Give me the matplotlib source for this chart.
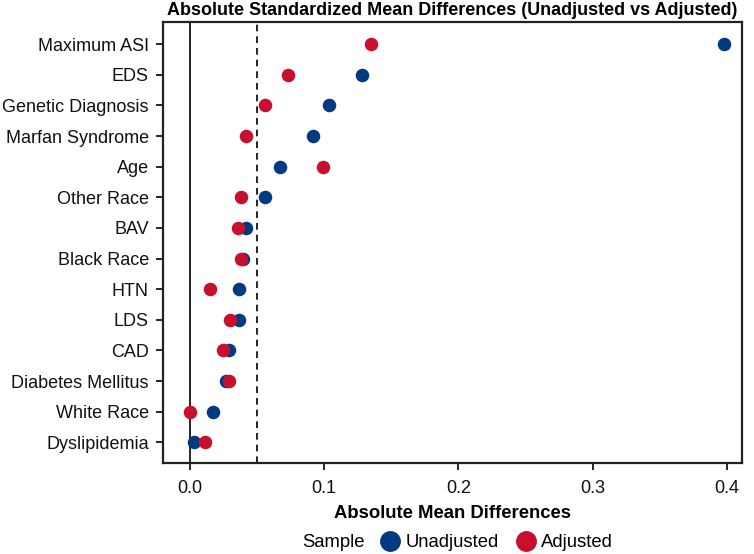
import matplotlib
matplotlib.use("Agg")
import matplotlib.pyplot as plt
from matplotlib.lines import Line2D

plt.rcParams['font.family'] = ['Liberation Sans', 'DejaVu Sans']

categories = ["Maximum ASI", "EDS", "Genetic Diagnosis", "Marfan Syndrome", "Age",
              "Other Race", "BAV", "Black Race", "HTN", "LDS", "CAD",
              "Diabetes Mellitus", "White Race", "Dyslipidemia"]
unadjusted = [0.398, 0.128, 0.104, 0.092, 0.067, 0.056, 0.042, 0.040, 0.037, 0.037,
              0.029, 0.027, 0.017, 0.003]
adjusted = [0.135, 0.073, 0.056, 0.042, 0.099, 0.038, 0.036, 0.038, 0.015, 0.030,
            0.025, 0.029, 0.000, 0.011]
xticks = [0.0, 0.1, 0.2, 0.3, 0.4]
threshold = 0.05

blue = "#003A80"
red = "#C8102E"

fig = plt.figure(figsize=(7.54, 5.54), dpi=100)
ax = fig.add_axes([0.216, 0.164, 0.768, 0.796])

n = len(categories)
ypos = list(range(n - 1, -1, -1))

ax.axvline(0, color="black", lw=1.2, zorder=1)
ax.axvline(threshold, color="black", lw=1.2, ls=(0, (4, 3)), zorder=1)
ax.scatter(unadjusted, ypos, s=95, color=blue, zorder=3, linewidths=0)
ax.scatter(adjusted, ypos, s=95, color=red, zorder=4, linewidths=0)

ax.set_xlim(-0.020, 0.411)
ax.set_ylim(-0.68, n - 1 + 0.72)
ax.set_yticks(ypos)
ax.set_yticklabels(categories, fontsize=13)
ax.set_xticks(xticks)
ax.set_xticklabels([f"{v:.1f}" for v in xticks], fontsize=13)
ax.tick_params(axis='both', direction='out', length=5, width=1.2, colors='black',
               labelcolor='#111111')
ax.tick_params(axis='x', pad=7)
ax.tick_params(axis='y', pad=5)
for sp in ax.spines.values():
    sp.set_linewidth(1.6)
    sp.set_color('#222222')

ax.set_xlabel("Absolute Mean Differences", fontsize=13.3, fontweight='bold', labelpad=6)
ax.set_title("Absolute Standardized Mean Differences (Unadjusted vs Adjusted)",
             fontsize=13, fontweight='bold', pad=5)

handles = [Line2D([], [], marker='o', ls='none', color=blue, markersize=14),
           Line2D([], [], marker='o', ls='none', color=red, markersize=14)]
fig.text(0.401, 0.020, "Sample", fontsize=13.3, va='center', ha='left')
fig.legend(handles, ["Unadjusted", "Adjusted"], loc='center left',
           bbox_to_anchor=(0.481, 0.020), ncol=2, frameon=False, fontsize=13.3,
           handletextpad=0.2, columnspacing=0.9, handlelength=1.2)

fig.savefig("out.png", dpi=100)
